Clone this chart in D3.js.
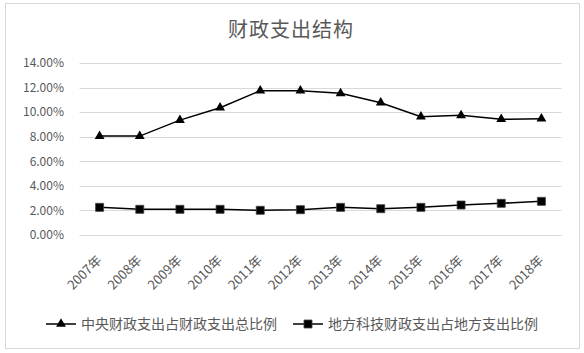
<!DOCTYPE html>
<html><head><meta charset="utf-8">
<script src="https://cdn.jsdelivr.net/npm/d3@7/dist/d3.min.js"></script>
<style>
body{margin:0;background:#fff;}
text{font-family:"Noto Sans CJK SC","Noto Sans",sans-serif;fill:#595959;}
</style></head>
<body><svg id="c" width="584" height="353"></svg>
<script>
const title = "财政支出结构";
const categories = ["2007年","2008年","2009年","2010年","2011年","2012年","2013年","2014年","2015年","2016年","2017年","2018年"];
const seriesNames = ["中央财政支出占财政支出总比例","地方科技财政支出占地方支出比例"];
const centralShare = [8.05,8.05,9.35,10.36,11.75,11.75,11.53,10.77,9.63,9.74,9.42,9.47];
const localTechShare = [2.25,2.09,2.09,2.09,2.01,2.06,2.25,2.14,2.25,2.44,2.58,2.74];
const yTicks = [0,2,4,6,8,10,12,14];

const svg = d3.select("#c");
svg.append("rect").attr("x",5.5).attr("y",3.5).attr("width",574).attr("height",345)
  .attr("fill","#fff").attr("stroke","#d9d9d9");

svg.append("text").attr("x",291).attr("y",37).attr("text-anchor","middle")
  .style("font-size","20px").style("letter-spacing","1px").text(title);

const x = d3.scaleBand().domain(categories).range([79.5,561.5]);
const y = d3.scaleLinear().domain([0,14]).range([235,63]);

const grid = svg.append("g");
grid.selectAll("line").data(yTicks).join("line")
  .attr("x1",79.5).attr("x2",561.5)
  .attr("y1",d=>Math.round(y(d))+0.5).attr("y2",d=>Math.round(y(d))+0.5)
  .attr("stroke","#d9d9d9").attr("stroke-width",1);

const yAxis = d3.axisLeft(y).tickValues(yTicks).tickSize(0).tickPadding(0)
  .tickFormat(d=>d.toFixed(2)+"%");
const ya = svg.append("g").attr("transform","translate(64,0)").call(yAxis);
ya.select(".domain").remove();
ya.selectAll("text").style("font-size","12px").attr("fill","#595959");

const xAxis = d3.axisBottom(x).tickSize(0).tickPadding(0);
const xa = svg.append("g").attr("transform","translate(0,0)").call(xAxis);
xa.select(".domain").remove();
xa.selectAll(".tick").attr("transform",null);
xa.selectAll(".tick text")
  .attr("y",null).attr("dy",null)
  .attr("text-anchor","end")
  .attr("transform",d=>`translate(${x(d)+x.bandwidth()/2+3},261) rotate(-45)`)
  .style("font-size","13px").attr("fill","#595959");

const cx = d => x(d)+x.bandwidth()/2;
const line = d3.line().x((d,i)=>cx(categories[i])).y(d=>y(d));

const series = [
  {name:seriesNames[0], values:centralShare, sym:d3.symbolTriangle, size:42},
  {name:seriesNames[1], values:localTechShare, sym:d3.symbolSquare, size:64}
];
series.forEach(s=>{
  svg.append("path").datum(s.values).attr("d",line)
    .attr("fill","none").attr("stroke","#000").attr("stroke-width",1.5);
  svg.append("g").selectAll("path").data(s.values).join("path")
    .attr("transform",(d,i)=>`translate(${cx(categories[i])},${y(d)})`)
    .attr("d",d3.symbol(s.sym,s.size)())
    .attr("fill","#000").attr("stroke", s.sym===d3.symbolSquare?"#404040":"none").attr("stroke-width",0.8);
});

const legendX = [46,293];
const lg = svg.append("g");
series.forEach((s,i)=>{
  const g = lg.append("g").attr("transform",`translate(${legendX[i]},324)`);
  g.append("line").attr("x1",0).attr("x2",30).attr("y1",0).attr("y2",0)
    .attr("stroke","#000").attr("stroke-width",1.5);
  g.append("path").attr("transform","translate(15,0)").attr("d",d3.symbol(s.sym,s.size)())
    .attr("fill","#000").attr("stroke", s.sym===d3.symbolSquare?"#404040":"none").attr("stroke-width",0.8);
  g.append("text").attr("x",35).attr("y",0).attr("dy","0.36em")
    .style("font-size","14px").text(s.name);
});
</script></body></html>
